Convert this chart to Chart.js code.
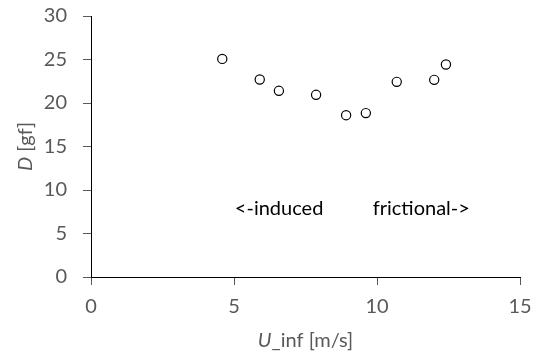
<!DOCTYPE html>
<html>
<head>
<meta charset="utf-8">
<script src="https://cdn.jsdelivr.net/npm/chart.js@4"></script>
<style>
  html, body { margin: 0; padding: 0; background: #fff; }
  #wrap { width: 542px; height: 358px; }
</style>
</head>
<body>
<div id="wrap"><canvas id="scatter-chart" width="542" height="358"></canvas></div>
<script>
const speed = [4.59, 5.9, 6.57, 7.87, 8.92, 9.61, 10.69, 12.0, 12.41];
const drag = [25.07, 22.7, 21.4, 20.94, 18.6, 18.84, 22.43, 22.66, 24.43];
const notes = ["<-induced", "frictional->"];

const FONT = "Lato, 'Liberation Sans', sans-serif";
const SIZE = 20;

const textPlugin = {
  id: "texts",
  afterDraw(chart) {
    const ctx = chart.ctx;
    const x = chart.scales.x;
    const y = chart.scales.y;
    const area = chart.chartArea;
    ctx.save();
    ctx.textBaseline = "middle";

    // notes inside the plot
    ctx.fillStyle = "#000";
    ctx.font = SIZE + "px " + FONT;
    ctx.textAlign = "left";
    ctx.fillText(notes[0], x.getPixelForValue(5.03), y.getPixelForValue(7.85));
    ctx.fillText(notes[1], x.getPixelForValue(9.85), y.getPixelForValue(7.85));

    // axis titles, first part italic
    const drawTitle = (parts, cx, cy) => {
      let w = 0;
      parts.forEach(p => { ctx.font = p[1] + " " + SIZE + "px " + FONT; w += ctx.measureText(p[0]).width; });
      let px = cx - w / 2;
      parts.forEach(p => {
        ctx.font = p[1] + " " + SIZE + "px " + FONT;
        ctx.fillText(p[0], px, cy);
        px += ctx.measureText(p[0]).width;
      });
    };
    ctx.fillStyle = "#595959";
    ctx.textAlign = "left";
    drawTitle([["U", "italic"], ["_inf [m/s]", "normal"]], (area.left + area.right) / 2, 341);

    ctx.translate(26, (area.top + area.bottom) / 2);
    ctx.rotate(-Math.PI / 2);
    drawTitle([["D", "italic"], [" [gf]", "normal"]], 0, 0);
    ctx.restore();
  },
};

new Chart(document.getElementById("scatter-chart"), {
  type: "scatter",
  data: {
    datasets: [
      {
        data: speed.map((v, i) => ({ x: v, y: drag[i] })),
        pointStyle: "circle",
        pointRadius: 4.6,
        pointBackgroundColor: "#fff",
        pointBorderColor: "#000",
        pointBorderWidth: 1.2,
      },
    ],
  },
  options: {
    responsive: false,
    animation: false,
    layout: { padding: { top: 16, right: 22, left: 0, bottom: 0 } },
    plugins: {
      legend: { display: false },
      tooltip: { enabled: false },
    },
    scales: {
      x: {
        type: "linear",
        min: 0,
        max: 15,
        afterFit: (s) => { s.height = 81; s.paddingLeft = 0; s.paddingRight = 0; },
        ticks: { stepSize: 5, color: "#595959", padding: 10, font: { family: FONT, size: SIZE } },
        grid: { drawOnChartArea: false, drawTicks: true, tickLength: 8, color: "#595959" },
        border: { color: "#000", width: 1 },
      },
      y: {
        type: "linear",
        min: 0,
        max: 30,
        afterFit: (s) => { s.width = 91; s.paddingTop = 0; s.paddingBottom = 0; },
        ticks: { stepSize: 5, color: "#595959", padding: 16, font: { family: FONT, size: SIZE } },
        grid: { drawOnChartArea: false, drawTicks: true, tickLength: 8, color: "#595959" },
        border: { color: "#000", width: 1 },
      },
    },
  },
  plugins: [textPlugin],
});
</script>
</body>
</html>
